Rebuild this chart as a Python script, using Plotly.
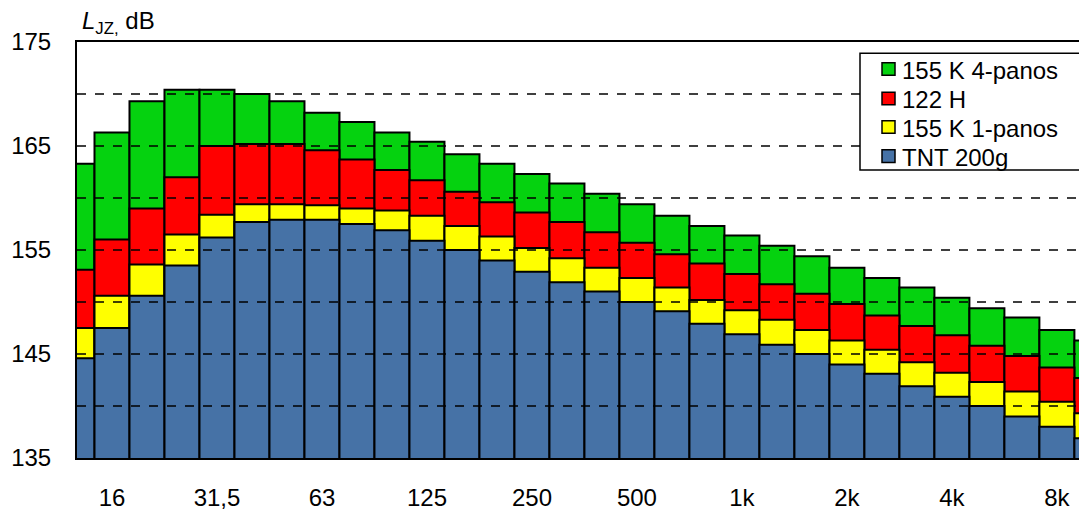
import plotly.graph_objects as go

bands = ["12,5", "16", "20", "25", "31,5", "40", "50", "63", "80", "100",
         "125", "160", "200", "250", "315", "400", "500", "630", "800", "1k",
         "1,25k", "1,6k", "2k", "2,5k", "3,15k", "4k", "5k", "6,3k", "8k", "10k"]
tick_labels = ["16", "31,5", "63", "125", "250", "500", "1k", "2k", "4k", "8k"]

k155_4 = [163.3, 166.3, 169.3, 170.4, 170.4, 170.0, 169.3, 168.2, 167.3, 166.3,
          165.4, 164.2, 163.3, 162.3, 161.4, 160.4, 159.4, 158.3, 157.3, 156.4,
          155.4, 154.4, 153.3, 152.3, 151.4, 150.4, 149.4, 148.5, 147.3, 146.3]
h122 = [153.1, 156.0, 159.0, 162.0, 165.0, 165.2, 165.2, 164.6, 163.7, 162.7,
        161.7, 160.6, 159.6, 158.6, 157.7, 156.7, 155.7, 154.6, 153.7, 152.7,
        151.7, 150.8, 149.8, 148.7, 147.7, 146.8, 145.8, 144.8, 143.7, 142.7]
k155_1 = [147.5, 150.6, 153.6, 156.5, 158.4, 159.4, 159.4, 159.3, 159.0, 158.8,
          158.3, 157.3, 156.3, 155.2, 154.2, 153.3, 152.3, 151.4, 150.2, 149.2,
          148.3, 147.3, 146.3, 145.4, 144.2, 143.2, 142.3, 141.4, 140.4, 139.3]
tnt200 = [144.6, 147.5, 150.6, 153.5, 156.2, 157.7, 157.9, 157.9, 157.5, 156.9,
          155.9, 155.0, 154.0, 152.9, 151.9, 151.0, 150.0, 149.1, 147.9, 146.9,
          145.9, 145.0, 144.0, 143.1, 141.9, 140.9, 140.0, 139.0, 138.0, 136.9]

series_names = ["155 K 4-panos", "122 H", "155 K 1-panos", "TNT 200g"]
series_values = [k155_4, h122, k155_1, tnt200]
series_colors = ["#05D20F", "#FF0000", "#FFFF00", "#4672A6"]
grid_vals = [140, 145, 150, 155, 160, 165, 170]

x_idx = list(range(len(bands)))
tick_pos = [bands.index(t) for t in tick_labels]

FONT = "Liberation Sans, Arial, sans-serif"

# plot area geometry (page pixels; the page body has an 8px margin)
PX_L, PX_R, PX_T, PX_B = 77.0, 1087.0, 42.0, 457.7


def px_x(p):
    return (p - PX_L) / (PX_R - PX_L)


def px_y(p):
    return (PX_B - p) / (PX_B - PX_T)


fig = go.Figure()
for name, vals, col in zip(series_names, series_values, series_colors):
    fig.add_trace(go.Bar(
        x=x_idx, y=vals, name=name, width=1.0, showlegend=False,
        marker=dict(color=col, line=dict(color="black", width=2)),
        customdata=bands,
        hovertemplate="%{customdata} Hz: %{y} dB<extra>" + name + "</extra>",
    ))

for g in grid_vals:
    fig.add_shape(type="line", xref="paper", x0=0, x1=1, yref="y", y0=g, y1=g,
                  line=dict(color="black", width=1.5, dash="dash"), layer="above")

# legend box drawn by hand so its spacing matches the original
fig.add_shape(type="rect", xref="paper", yref="paper",
              x0=px_x(860), x1=px_x(1081), y0=px_y(170), y1=px_y(53.3),
              line=dict(color="black", width=1.5), fillcolor="white", layer="above")
row_centers = [69.0, 98.5, 127.0, 156.0]
for name, col, cy in zip(series_names, series_colors, row_centers):
    fig.add_shape(type="rect", xref="paper", yref="paper",
                  x0=px_x(882), x1=px_x(895), y0=px_y(cy + 6.3), y1=px_y(cy - 6.3),
                  line=dict(color="black", width=1.5), fillcolor=col, layer="above")
    fig.add_annotation(text=name, xref="paper", yref="paper",
                       x=px_x(900), y=px_y(cy + 1), xanchor="left", yanchor="middle",
                       showarrow=False, font=dict(family=FONT, size=24, color="black"))

fig.add_annotation(text="<i>L</i><sub>JZ,</sub> dB", xref="paper", yref="paper",
                   x=0, y=1, xanchor="left", yanchor="middle", xshift=3, yshift=20,
                   showarrow=False, font=dict(family=FONT, size=24, color="black"))

fig.update_layout(
    width=1079, height=503,
    margin=dict(l=69, r=0, t=34, b=53, pad=0, autoexpand=False),
    barmode="overlay",
    plot_bgcolor="white", paper_bgcolor="white",
    font=dict(family=FONT, size=24, color="black"),
    showlegend=False,
    xaxis=dict(range=[0, 28.86], tickmode="array", tickvals=tick_pos,
               ticktext=tick_labels, showgrid=False, zeroline=False,
               showline=True, linecolor="black", linewidth=2, mirror=True,
               ticks="", ticklabelstandoff=17, automargin=False,
               tickfont=dict(family=FONT, size=24)),
    yaxis=dict(range=[135, 175], tickmode="array",
               tickvals=[135, 145, 155, 165, 175], showgrid=False,
               zeroline=False, showline=True, linecolor="black", linewidth=2,
               ticks="", ticklabelstandoff=19, automargin=False,
               tickfont=dict(family=FONT, size=24)),
)

fig.write_html("out.html")
